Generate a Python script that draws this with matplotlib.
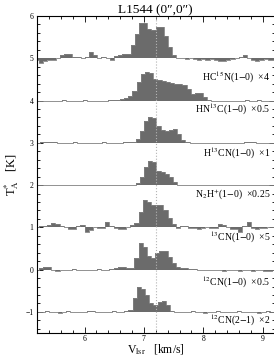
import numpy as np
import matplotlib
matplotlib.use("Agg")
import matplotlib.pyplot as plt
from matplotlib.ticker import MultipleLocator

plt.rcParams['font.family'] = ['Liberation Serif', 'DejaVu Serif']
plt.rcParams['mathtext.fontset'] = 'stix'

# ---------------- data ----------------
dv = 0.07  # channel width, km/s

hc15n_v0 = 5.166
hc15n = [-0.05, -0.11, -0.06, -0.03, -0.03, 0.0, 0.08, 0.11, 0.09, 0.03,
         0.02, 0.0, 0.04, 0.15, 0.08, 0.0, 0.02, 0.0, -0.05, 0.05,
         0.08, 0.09, 0.09, 0.31, 0.57, 0.83, 0.83, 0.69, 0.67, 0.74,
         0.74, 0.52, 0.27, 0.07, 0.01, 0.0, -0.02, 0.0, -0.02, -0.03,
         -0.02, -0.03, -0.02, -0.04, -0.06, -0.06, -0.04, -0.02, 0.0, 0.03,
         0.08, 0.0, -0.04, -0.06, -0.04, -0.02, -0.05, -0.03]

hn13c_v0 = 5.128
hn13c = [0.0, -0.01, -0.01, -0.02, -0.01, 0.0, 0.0, 0.01, 0.0, -0.01,
         0.0, 0.0, 0.01, 0.0, 0.0, -0.01, 0.0, 0.0, 0.01, 0.01,
         0.02, 0.04, 0.07, 0.10, 0.22, 0.45, 0.62, 0.68, 0.64, 0.50,
         0.48, 0.47, 0.44, 0.42, 0.40, 0.38, 0.36, 0.27, 0.15, 0.17,
         0.17, 0.09, 0.01, 0.0, 0.0, -0.01, 0.0, 0.0, 0.0, -0.01,
         0.0, 0.01, 0.0, 0.0, 0.01, 0.0, 0.0, 0.0, 0.0]

h13cn_v0 = 5.11
h13cn = [0.0, 0.0, 0.01, 0.02, 0.02, 0.01, 0.0, 0.0, 0.0, 0.0,
         0.01, 0.0, 0.0, 0.0, 0.0, 0.0, 0.0, 0.01, 0.0, 0.0,
         0.0, 0.0, 0.01, 0.01, 0.03, 0.10, 0.27, 0.52, 0.61, 0.58,
         0.40, 0.30, 0.27, 0.30, 0.32, 0.20, 0.06, 0.01, 0.0, 0.0,
         0.0, 0.0, 0.0, 0.0, 0.0, 0.0, 0.0, 0.0, 0.0, 0.0,
         0.0, 0.02, 0.02, 0.01, 0.0, 0.0, 0.0, 0.0, 0.0]

n2hp_v0 = 5.11
n2hp = [0.0, 0.0, 0.0, 0.0, 0.0, 0.0, 0.0, 0.0, 0.0, 0.0,
        0.0, 0.0, 0.0, 0.0, 0.0, 0.0, 0.0, 0.0, 0.0, 0.0,
        0.0, 0.0, 0.0, 0.0, 0.01, 0.06, 0.20, 0.43, 0.57, 0.54,
        0.33, 0.30, 0.26, 0.20, 0.07, 0.01, 0.0, 0.0, 0.0, 0.0,
        0.0, 0.0, 0.0, 0.0, 0.0, 0.0, 0.0, 0.0, 0.0, 0.0,
        0.0, 0.0, 0.0, 0.0, 0.0, 0.0, 0.0, 0.0, 0.0]

cn13_v0 = 5.16
cn13 = [0.0, 0.02, 0.03, 0.06, 0.10, 0.09, 0.04, 0.0, -0.04, -0.03,
        0.03, 0.05, -0.12, -0.07, 0.0, -0.01, -0.01, 0.13, 0.04, -0.02,
        -0.04, -0.05, 0.0, 0.06, 0.10, 0.36, 0.64, 0.59, 0.54, 0.53,
        0.52, 0.40, 0.22, 0.08, -0.02, 0.04, 0.03, -0.01, -0.02, -0.03,
        -0.02, 0.0, -0.02, -0.01, 0.07, 0.06, 0.0, -0.03, -0.04, -0.12,
        0.03, 0.13, -0.01, -0.03, -0.02, -0.02, 0.0, 0.01]

cn10_v0 = 5.16
cn10 = [0.0, 0.03, 0.05, 0.05, -0.02, -0.03, -0.01, 0.0, 0.0, 0.01,
        0.0, 0.0, -0.01, 0.0, 0.0, 0.01, 0.0, 0.0, 0.01, 0.04,
        0.05, 0.05, 0.04, 0.03, 0.27, 0.63, 0.53, 0.33, 0.27, 0.40,
        0.45, 0.43, 0.29, 0.16, 0.06, 0.04, 0.03, 0.02, 0.01, 0.0,
        0.0, -0.01, 0.0, 0.0, -0.02, -0.03, -0.01, 0.0, -0.02, -0.04,
        -0.02, 0.0, -0.03, -0.02, 0.0, -0.03, -0.04, -0.02]

cn21_v0 = 5.13
cn21 = [0.0, -0.01, 0.0, 0.01, 0.0, -0.01, -0.02, 0.0, 0.01, 0.0,
        0.0, -0.01, 0.0, 0.01, 0.02, 0.0, -0.01, 0.0, 0.0, 0.01,
        0.0, 0.0, 0.01, 0.05, 0.32, 0.60, 0.53, 0.40, 0.20, 0.17,
        0.24, 0.26, 0.16, 0.03, 0.0, -0.01, 0.0, 0.0, 0.01, 0.0,
        -0.01, -0.02, 0.0, 0.0, 0.01, 0.0, -0.01, 0.0, 0.0, 0.01,
        0.0, -0.01, 0.0, 0.0, -0.02, 0.0, 0.01, 0.0, 0.0]

offsets = [5, 4, 3, 2, 1, 0, -1]
labels = ['HC$^{15}$N(1$-$0)  \u00d74',
          'HN$^{13}$C(1$-$0)  \u00d70.5',
          'H$^{13}$CN(1$-$0)  \u00d71',
          'N$_2$H$^{+}$(1$-$0)  \u00d70.25',
          '$^{13}$CN(1$-$0)  \u00d75',
          '$^{12}$CN(1$-$0)  \u00d70.5',
          '$^{12}$CN(2$-$1)  \u00d72']
spectra = [(hc15n_v0, hc15n), (hn13c_v0, hn13c), (h13cn_v0, h13cn),
           (n2hp_v0, n2hp), (cn13_v0, cn13), (cn10_v0, cn10), (cn21_v0, cn21)]
v_sys = 7.2
title = 'L1544 (0\u2033,0\u2033)'

# ---------------- plot ----------------
fig = plt.figure(figsize=(2.74, 3.56), dpi=100)
ax = fig.add_axes([0.135, 0.0646, 0.867, 0.8905])

label_dy = [-0.46, -0.21, -0.25, -0.21, -0.23, -0.30, -0.21]
for (v0, vals), off, lab, dy in zip(spectra, offsets, labels, label_dy):
    vals = np.array(vals)
    v = v0 + dv * (np.arange(len(vals)) + 0.5)
    ax.fill_between(v, off, off + vals, step='mid', color='0.42', lw=0, zorder=2)
    ax.step(v, off + vals, where='mid', color='0.5', lw=0.6, zorder=2)
    ax.text(9.13, off + dy, lab, ha='right', va='center', fontsize=7, zorder=4)

ax.axvline(v_sys, color='0.7', ls=':', lw=0.8, zorder=3)

ax.set_xlim(5.2, 9.2)
ax.set_ylim(-1.5, 6)
ax.xaxis.set_major_locator(MultipleLocator(1))
ax.xaxis.set_minor_locator(MultipleLocator(0.2))
ax.yaxis.set_major_locator(MultipleLocator(1))
ax.yaxis.set_minor_locator(MultipleLocator(0.2))
ax.tick_params(which='both', direction='in', top=True, right=True, labelsize=5.5, width=0.6)
ax.tick_params(which='major', length=4, pad=2.5)
ax.tick_params(axis='x', which='major', pad=1.5)
ax.tick_params(which='minor', length=2)
for s in ax.spines.values():
    s.set_linewidth(0.8)

ax.set_title(title, fontsize=9.5, pad=2)
ax.set_xlabel('V$_{\\rm lsr}$   [km/s]', fontsize=8.5, labelpad=-1)
ax.set_ylabel('T$_{\\rm A}^{*}$   [K]', fontsize=9, labelpad=3)

fig.savefig('out.png', dpi=100)
